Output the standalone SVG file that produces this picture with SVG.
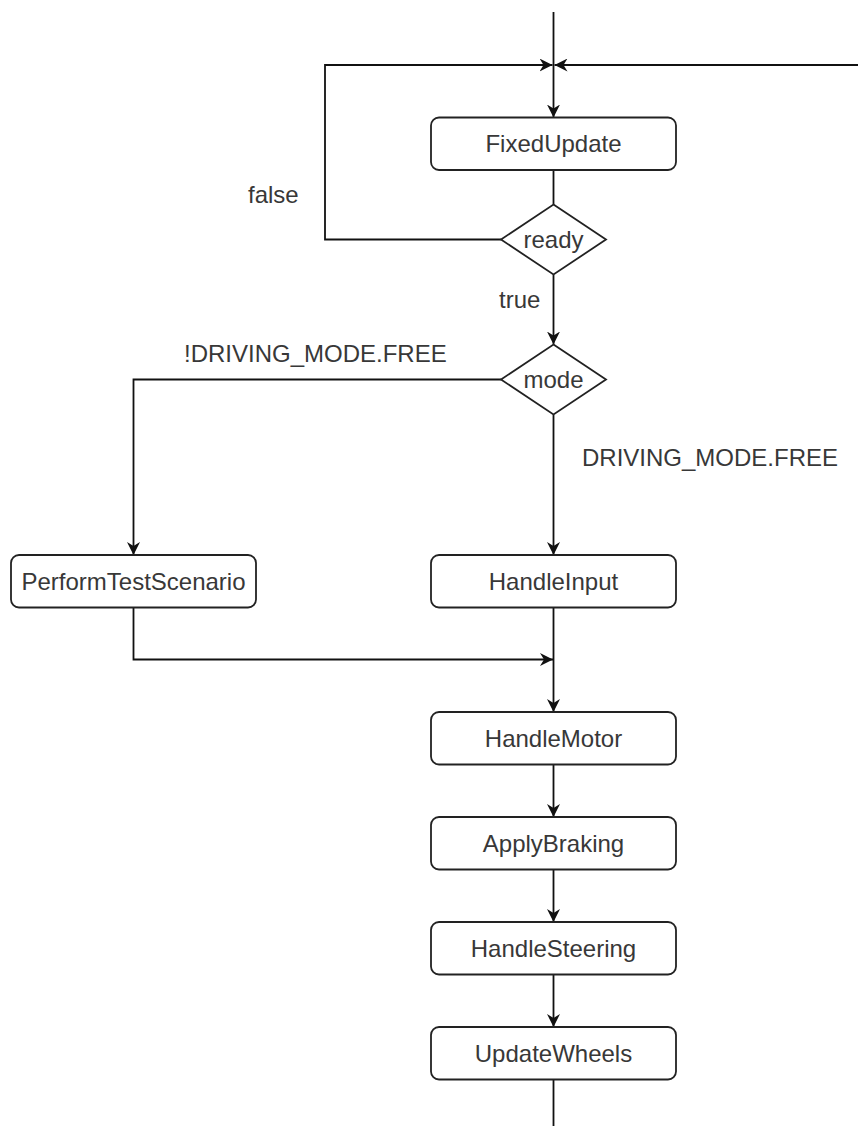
<svg xmlns="http://www.w3.org/2000/svg" width="858" height="1126" viewBox="0 0 858 1126">
  <style>
    .box { fill: #ffffff; stroke: #222222; stroke-width: 1.8; }
    .dec { fill: #ffffff; stroke: #222222; stroke-width: 1.8; }
    .lbl { font-family: "Liberation Sans", Arial, sans-serif; font-size: 24px; fill: #383838; }
    .mid { text-anchor: middle; }
    .edge { fill: none; stroke: #111111; stroke-width: 1.8; }
  </style>
  <defs>
    <marker id="arrow" markerUnits="userSpaceOnUse" viewBox="0 0 13 13" refX="13" refY="6.5" markerWidth="13" markerHeight="13" orient="auto">
      <path d="M0,0 L13,6.5 L0,13 L4,6.5 Z" fill="#111111"/>
    </marker>
  </defs>
  <rect width="858" height="1126" fill="#ffffff"/>

  <!-- connectors -->
  <g id="connectors">
    <path class="edge" d="M553.5,12 V117.5" marker-end="url(#arrow)"/>
    <path class="edge" d="M501,239.5 H325 V65 H552.5" marker-end="url(#arrow)"/>
    <path class="edge" d="M858,65 H554.5" marker-end="url(#arrow)"/>
    <path class="edge" d="M553.5,170 V204.5"/>
    <path class="edge" d="M553.5,274.5 V344.5" marker-end="url(#arrow)"/>
    <path class="edge" d="M553.5,414.5 V555" marker-end="url(#arrow)"/>
    <path class="edge" d="M501,379.5 H133.5 V555" marker-end="url(#arrow)"/>
    <path class="edge" d="M133.5,607.5 V659.5 H553" marker-end="url(#arrow)"/>
    <path class="edge" d="M553.5,607.5 V712" marker-end="url(#arrow)"/>
    <path class="edge" d="M553.5,764.5 V817" marker-end="url(#arrow)"/>
    <path class="edge" d="M553.5,869.5 V922" marker-end="url(#arrow)"/>
    <path class="edge" d="M553.5,974.5 V1027" marker-end="url(#arrow)"/>
    <path class="edge" d="M553.5,1079.5 V1126"/>
    <text class="lbl" x="248" y="203">false</text>
    <text class="lbl" x="499" y="308">true</text>
    <text class="lbl" x="184" y="362">!DRIVING_MODE.FREE</text>
    <text class="lbl" x="582" y="466">DRIVING_MODE.FREE</text>
  </g>

  <g id="fixed-update">
    <rect class="box" x="431" y="117.5" width="245" height="52.5" rx="8"/>
    <text class="lbl mid" x="553.5" y="152">FixedUpdate</text>
  </g>

  <g id="ready">
    <polygon class="dec" points="553.5,204.5 606,239.5 553.5,274.5 501,239.5"/>
    <text class="lbl mid" x="553.5" y="247.5">ready</text>
  </g>

  <g id="mode">
    <polygon class="dec" points="553.5,344.5 606,379.5 553.5,414.5 501,379.5"/>
    <text class="lbl mid" x="553.5" y="387.5">mode</text>
  </g>

  <g id="perform-test-scenario">
    <rect class="box" x="11" y="555" width="245" height="52.5" rx="8"/>
    <text class="lbl mid" x="133.5" y="589.5">PerformTestScenario</text>
  </g>

  <g id="handle-input">
    <rect class="box" x="431" y="555" width="245" height="52.5" rx="8"/>
    <text class="lbl mid" x="553.5" y="589.5">HandleInput</text>
  </g>

  <g id="handle-motor">
    <rect class="box" x="431" y="712" width="245" height="52.5" rx="8"/>
    <text class="lbl mid" x="553.5" y="746.5">HandleMotor</text>
  </g>

  <g id="apply-braking">
    <rect class="box" x="431" y="817" width="245" height="52.5" rx="8"/>
    <text class="lbl mid" x="553.5" y="851.5">ApplyBraking</text>
  </g>

  <g id="handle-steering">
    <rect class="box" x="431" y="922" width="245" height="52.5" rx="8"/>
    <text class="lbl mid" x="553.5" y="956.5">HandleSteering</text>
  </g>

  <g id="update-wheels">
    <rect class="box" x="431" y="1027" width="245" height="52.5" rx="8"/>
    <text class="lbl mid" x="553.5" y="1061.5">UpdateWheels</text>
  </g>
</svg>
